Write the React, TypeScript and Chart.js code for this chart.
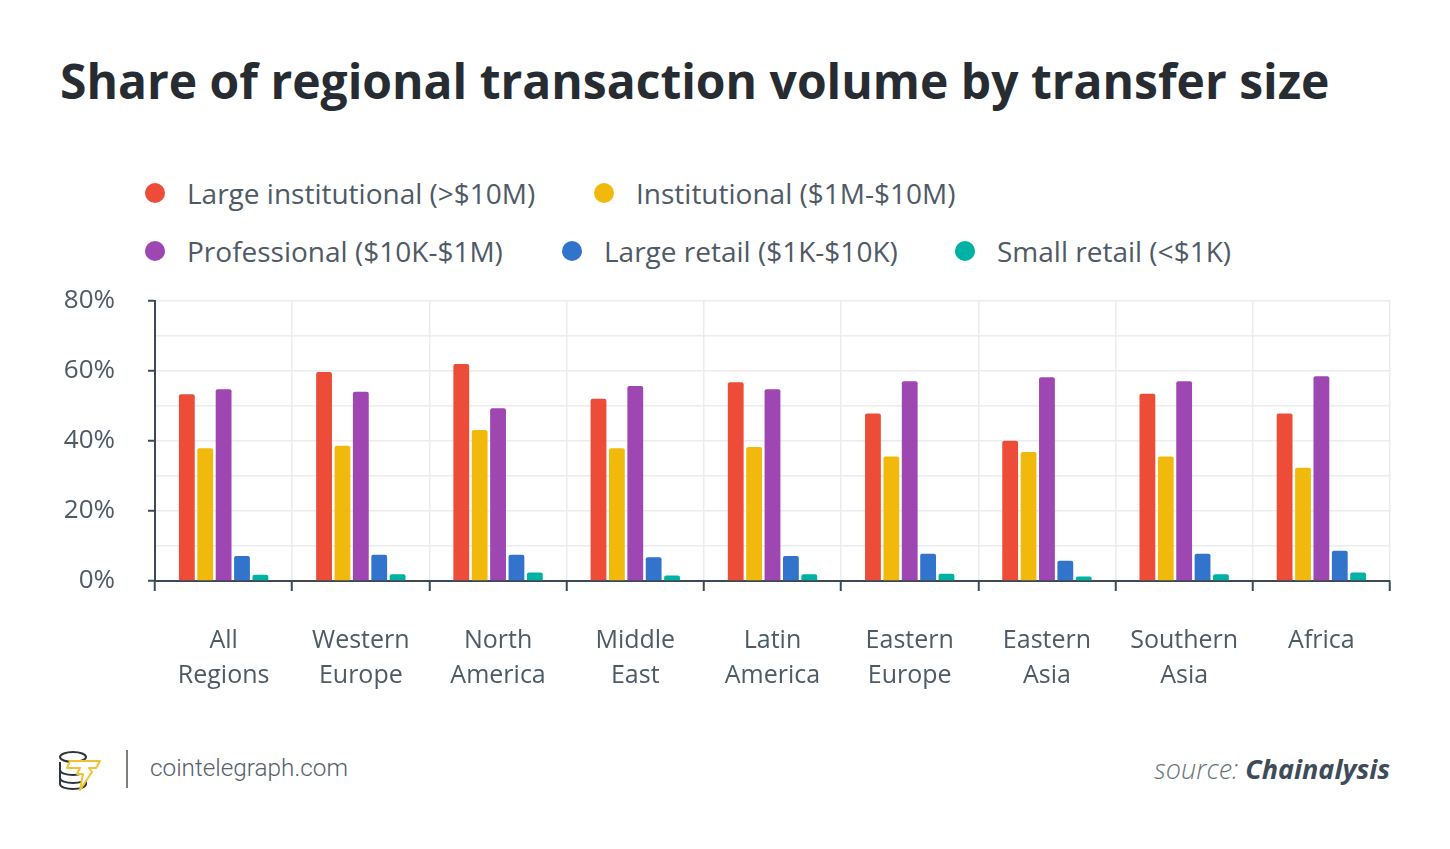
import React, { useEffect, useRef } from "react";
import { Chart, registerables } from "chart.js";

Chart.register(...registerables);

const categories: string[][] = [
  ["All", "Regions"],
  ["Western", "Europe"],
  ["North", "America"],
  ["Middle", "East"],
  ["Latin", "America"],
  ["Eastern", "Europe"],
  ["Eastern", "Asia"],
  ["Southern", "Asia"],
  ["Africa"],
];

const seriesNames = [
  "Large institutional (>$10M)",
  "Institutional ($1M-$10M)",
  "Professional ($10K-$1M)",
  "Large retail ($1K-$10K)",
  "Small retail (<$1K)",
];

const seriesColors = ["#ec4c38", "#f2b90d", "#9e46b1", "#3273cc", "#00b2a4"];

const largeInstitutional = [53.3, 59.6, 61.9, 52.0, 56.7, 47.8, 40.0, 53.4, 47.8];
const institutional = [37.9, 38.6, 43.1, 37.9, 38.2, 35.5, 36.8, 35.5, 32.3];
const professional = [54.7, 54.0, 49.3, 55.6, 54.7, 57.0, 58.1, 57.0, 58.4];
const largeRetail = [7.1, 7.5, 7.5, 6.8, 7.1, 7.8, 5.8, 7.8, 8.6];
const smallRetail = [1.8, 1.9, 2.4, 1.6, 1.9, 2.1, 1.3, 1.9, 2.4];

const seriesValues = [largeInstitutional, institutional, professional, largeRetail, smallRetail];

const yTicks = [0, 20, 40, 60, 80];

const FONT = "'Open Sans', sans-serif";
const AXIS_DARK = "#3d4a56";
const GRID = "#ececec";
const TEXT = "#4e5a65";

function BarChart() {
  const ref = useRef<HTMLCanvasElement | null>(null);
  useEffect(() => {
    if (!ref.current) return;
    const chart = new Chart(ref.current, {
      type: "bar",
      data: {
        labels: categories,
        datasets: seriesNames.map((name, i) => ({
          label: name,
          data: seriesValues[i],
          backgroundColor: seriesColors[i],
          borderRadius: 2,
          categoryPercentage: 0.67,
          barPercentage: 0.86,
        })),
      },
      options: {
        animation: false,
        responsive: true,
        maintainAspectRatio: false,
        layout: { padding: { left: 0, right: 60, top: 20, bottom: 0 } },
        plugins: { legend: { display: false }, tooltip: { enabled: false }, title: { display: false } },
        scales: {
          x: {
            offset: true,
            grid: {
              offset: true,
              color: GRID,
              lineWidth: 1.5,
              tickLength: 10,
              tickColor: AXIS_DARK,
              tickWidth: 2,
            },
            border: { display: true, color: AXIS_DARK, width: 2 },
            ticks: {
              font: { family: FONT, size: 25, lineHeight: 1.4 },
              color: TEXT,
              padding: 32,
              maxRotation: 0,
              autoSkip: false,
            },
            afterFit: (scale: any) => {
              scale.height = 139;
            },
          },
          y: {
            min: 0,
            max: 80,
            grid: {
              color: GRID,
              lineWidth: 1.5,
              tickLength: 7,
              tickWidth: 2,
              tickColor: (ctx: any) =>
                ctx.tick && yTicks.includes(ctx.tick.value) ? AXIS_DARK : "rgba(0,0,0,0)",
            },
            border: { display: true, color: AXIS_DARK, width: 2 },
            ticks: {
              stepSize: 10,
              font: { family: FONT, size: 26 },
              color: TEXT,
              padding: 33,
              callback: (v: any) => (yTicks.includes(Number(v)) ? `${v}%` : ""),
            },
            afterFit: (scale: any) => {
              scale.width = 155;
            },
          },
        },
      },
    });
    return () => chart.destroy();
  }, []);
  return <canvas ref={ref} />;
}

function Logo() {
  return (
    <svg width="48" height="44" viewBox="0 0 48 44" style={{ position: "absolute", left: 56, top: 748 }}>
      <g fill="#fff" stroke="#2f3438" strokeWidth="2">
        <path d="M4 30 v6 c0 3 6 5 13 5 s13 -2 13 -5 v-6" />
        <path d="M4 22 v8 c0 3 6 5 13 5 s13 -2 13 -5 v-8" />
        <path d="M4 14 v8 c0 3 6 5 13 5 s13 -2 13 -5 v-8" />
        <ellipse cx="17" cy="9" rx="13" ry="5" />
      </g>
      <path
        d="M14 13 L44 13 L40 20 L33 20 L36 24 L24 42 L27 26 L21 26 L24 20 L11 20 Z"
        fill="#fff"
        stroke="#f2c230"
        strokeWidth="2"
        strokeLinejoin="round"
      />
    </svg>
  );
}

export default function App() {
  const legendRow1 = [0, 1];
  const legendRow2 = [2, 3, 4];
  const row1Left = [145, 594];
  const row2Left = [145, 562, 955];
  const legendItem = (i: number, left: number, top: number) => (
    <div
      key={i}
      style={{
        position: "absolute",
        left,
        top,
        display: "flex",
        alignItems: "center",
        height: 40,
        whiteSpace: "nowrap",
      }}
    >
      <span
        style={{
          width: 20,
          height: 20,
          borderRadius: "50%",
          background: seriesColors[i],
          display: "inline-block",
          marginRight: 22,
        }}
      />
      <span style={{ fontFamily: FONT, fontSize: 28, color: TEXT, lineHeight: "40px" }}>{seriesNames[i]}</span>
    </div>
  );

  return (
    <div
      style={{
        position: "fixed",
        left: 0,
        top: 0,
        width: 1450,
        height: 849,
        background: "#fff",
        overflow: "hidden",
      }}
    >
      <div
        style={{
          position: "absolute",
          left: 60,
          top: 55,
          fontFamily: FONT,
          fontWeight: 700,
          fontSize: 48,
          lineHeight: "52px",
          color: "#262c31",
          whiteSpace: "nowrap",
        }}
      >
        Share of regional transaction volume by transfer size
      </div>

      {legendRow1.map((i, k) => legendItem(i, row1Left[k], 173))}
      {legendRow2.map((i, k) => legendItem(i, row2Left[k], 231))}

      <div style={{ position: "absolute", left: 0, top: 252, width: 1450, height: 468 }}>
        <BarChart />
      </div>

      <Logo />
      <div style={{ position: "absolute", left: 126, top: 750, width: 2, height: 38, background: "#7b7f83" }} />
      <div
        style={{
          position: "absolute",
          left: 150,
          top: 753,
          fontFamily: "Roboto, sans-serif",
          fontWeight: 300,
          fontSize: 24.3,
          lineHeight: "30px",
          color: "#55606a",
        }}
      >
        cointelegraph.com
      </div>
      <div
        style={{
          position: "absolute",
          right: 60,
          top: 751,
          fontFamily: FONT,
          fontStyle: "italic",
          fontSize: 27,
          lineHeight: "36px",
          whiteSpace: "nowrap",
        }}
      >
        <span style={{ fontWeight: 300, color: "#68737d" }}>source: </span>
        <span style={{ fontWeight: 700, color: "#3e4c59" }}>Chainalysis</span>
      </div>
    </div>
  );
}
